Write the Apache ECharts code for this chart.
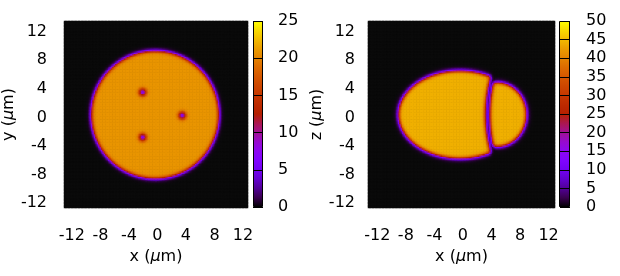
<!DOCTYPE html>
<html><head><meta charset="utf-8">
<script src="https://cdn.jsdelivr.net/npm/echarts@6/dist/echarts.min.js"></script>
<style>html,body{margin:0;padding:0;background:#fff}#c{width:620px;height:276px}</style>
</head><body><div id="c"></div>
<script>
// ---------- axes and tick labels ----------
const xTicks = [-12, -8, -4, 0, 4, 8, 12];
const yTicks = [-12, -8, -4, 0, 4, 8, 12];
const cbTicksA = [0, 5, 10, 15, 20, 25];
const cbTicksB = [0, 5, 10, 15, 20, 25, 30, 35, 40, 45, 50];
const cellStep = 0.2;               // µm per heat-map cell
const xCentresA = [-13.0, 12.6];    // first / last cell centre, left panel
const xCentresB = [-13.2, 12.8];    // first / last cell centre, right panel
const yCentres = [-12.6, 13.4];     // first / last cell centre, both panels

// ---------- left panel (x-y section) ----------
const cellA = [-0.3, 0.4, 8.95];         // centre x, centre y, radius (µm)
const levelA = 20.9;                      // interior value
const nucleusX = [-2.05, 3.5, -2.05];
const nucleusY = [3.55, 0.3, -2.75];
const nucleusDip = [0.68, 0.68, 0.68];    // relative drop at the dot centre
const nucleusSize = [0.5, 0.5, 0.5];      // µm

// ---------- right panel (x-z section) ----------
const lobeBig = [-0.4, 0.42, 8.6, 6.15];  // centre x, centre z, half-width, half-height
const lobeSmall = [4.8, 0.43, 4.12, 4.5];
const neckX = [3.5, 3.9];                 // membrane x at centre line and at |dz| = 4
const neckGap = [0.28];
const levelB = 44.2;
const edgeWidth = [0.14];

// gnuplot-like palette (rgbformulae 7,5,15), sampled every 5 %
const palette = ['#000000','#39004f','#510096','#6301ce','#7202f2','#8004ff','#8c07f2','#970bce',
  '#a11096','#ab174f','#b42000','#bd2a00','#c63700','#cd4600','#d55700','#dd6b00','#e48300',
  '#eb9c00','#f2ba00','#f8da00','#ffff00'];

function cats(r) { const out = []; const n = Math.round((r[1] - r[0]) / cellStep); for (let i = 0; i <= n; i++) out.push((r[0] + i * cellStep).toFixed(1)); return out; }
const xCatsA = cats(xCentresA), xCatsB = cats(xCentresB), yCats = cats(yCentres);

const sig = t => 1 / (1 + Math.exp(-t));
function ellDist(x, y, e) {
  const dx = x - e[0], dy = y - e[1];
  const r2 = dx * dx / (e[2] * e[2]) + dy * dy / (e[3] * e[3]);
  const g = 2 * Math.sqrt(dx * dx / Math.pow(e[2], 4) + dy * dy / Math.pow(e[3], 4));
  if (g < 1e-6) return -e[2];
  return (r2 - 1) / g;
}
const w = edgeWidth[0];
const dataA = [], dataB = [];
yCats.forEach((ys, j) => {
  const y = +ys;
  xCatsA.forEach((xs, i) => {
    const x = +xs;
    const d = Math.hypot(x - cellA[0], y - cellA[1]) - cellA[2];
    let v = levelA * sig(-d / w);
    for (let k = 0; k < nucleusX.length; k++) {
      const r = Math.hypot(x - nucleusX[k], y - nucleusY[k]) / nucleusSize[k];
      v *= 1 - nucleusDip[k] * Math.exp(-r * r);
    }
    dataA.push([i, j, +v.toFixed(2)]);
  });
  xCatsB.forEach((xs, i) => {
    const x = +xs;
    const dz = (y - lobeBig[1]) / 4;
    const nx = neckX[0] + (neckX[1] - neckX[0]) * dz * dz;
    const big = sig(-ellDist(x, y, lobeBig) / w) * sig((nx - neckGap[0] - x) / w);
    const small = sig(-ellDist(x, y, lobeSmall) / w) * sig((x - nx - neckGap[0]) / w);
    dataB.push([i, j, +(levelB * Math.max(big, small)).toFixed(2)]);
  });
});

const font = { fontFamily: 'DejaVu Sans', fontSize: 16, color: '#000' };
const isTick = list => (idx, val) => list.some(t => Math.abs(t - (+val)) < 1e-6);
const fmt = v => String(Math.round(+v));
const titleRich = { a: { fontFamily: 'DejaVu Sans', fontSize: 16, color: '#000' }, i: { fontFamily: 'DejaVu Sans', fontSize: 16, fontStyle: 'italic', color: '#000' } };
function gradient() {
  return { type: 'linear', x: 0, y: 1, x2: 0, y2: 0,
    colorStops: palette.map((c, k) => ({ offset: k / (palette.length - 1), color: c })) };
}
function mainX(gi, data, label) {
  return { gridIndex: gi, type: 'category', data: data, boundaryGap: true,
    axisLine: { show: false }, axisTick: { show: false }, splitLine: { show: false },
    axisLabel: Object.assign({ interval: isTick(xTicks), formatter: fmt, margin: 20 }, font),
    name: '{a|' + label + ' (}{i|μ}{a|m)}', nameLocation: 'middle', nameGap: 40, nameTextStyle: { rich: titleRich } };
}
function mainY(gi, label, margin, gap) {
  return { gridIndex: gi, type: 'category', data: yCats, boundaryGap: true,
    axisLine: { show: false }, axisTick: { show: false }, splitLine: { show: false },
    axisLabel: Object.assign({ interval: isTick(yTicks), formatter: fmt, margin: margin }, font),
    name: '{a|' + label + ' (}{i|μ}{a|m)}', nameLocation: 'middle', nameGap: gap, nameTextStyle: { rich: titleRich } };
}
function cbY(gi, ticks, margin) {
  return { gridIndex: gi, type: 'value', position: 'right', min: ticks[0], max: ticks[ticks.length - 1],
    interval: ticks[1] - ticks[0], z: 10,
    axisLine: { show: false }, splitLine: { show: false },
    axisTick: { show: true, inside: true, length: 10, lineStyle: { color: '#000', width: 1 } },
    axisLabel: Object.assign({ margin: margin }, font) };
}

const chart = echarts.init(document.getElementById('c'), null, { renderer: 'canvas' });
chart.setOption({
  animation: false,
  backgroundColor: '#fff',
  grid: [
    { left: 62, top: 21, width: 186, height: 187, show: true, backgroundColor: '#0a0a0a', borderWidth: 0 },
    { left: 253, top: 21, width: 10, height: 186 },
    { left: 368, top: 21, width: 187, height: 187, show: true, backgroundColor: '#0a0a0a', borderWidth: 0 },
    { left: 559, top: 21, width: 11, height: 186 }
  ],
  xAxis: [
    mainX(0, xCatsA, 'x'),
    { gridIndex: 1, type: 'category', data: ['c'], show: false },
    mainX(2, xCatsB, 'x'),
    { gridIndex: 3, type: 'category', data: ['c'], show: false }
  ],
  yAxis: [
    mainY(0, 'y', 17, 40),
    cbY(1, cbTicksA, 15),
    mainY(2, 'z', 13, 36),
    cbY(3, cbTicksB, 16)
  ],
  visualMap: [
    { show: false, type: 'continuous', seriesIndex: 0, min: 0, max: cbTicksA[cbTicksA.length - 1], inRange: { color: ['#0a0a0a'].concat(palette.slice(1)) } },
    { show: false, type: 'continuous', seriesIndex: 2, min: 0, max: cbTicksB[cbTicksB.length - 1], inRange: { color: ['#0a0a0a'].concat(palette.slice(1)) } }
  ],
  series: [
    { type: 'heatmap', xAxisIndex: 0, yAxisIndex: 0, data: dataA, progressive: 0, emphasis: { disabled: true } },
    { type: 'bar', xAxisIndex: 1, yAxisIndex: 1, data: [cbTicksA[cbTicksA.length - 1]], barWidth: '100%', silent: true,
      itemStyle: { color: gradient(), borderColor: '#000', borderWidth: 1 } },
    { type: 'heatmap', xAxisIndex: 2, yAxisIndex: 2, data: dataB, progressive: 0, emphasis: { disabled: true } },
    { type: 'bar', xAxisIndex: 3, yAxisIndex: 3, data: [cbTicksB[cbTicksB.length - 1]], barWidth: '100%', silent: true,
      itemStyle: { color: gradient(), borderColor: '#000', borderWidth: 1 } }
  ]
});
</script></body></html>
